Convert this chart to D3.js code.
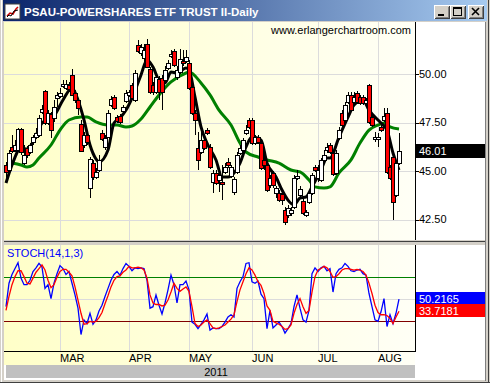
<!DOCTYPE html>
<html>
<head>
  <meta charset="utf-8">
  <title>PSAU daily</title>
  <script src="https://cdn.jsdelivr.net/npm/d3@7/dist/d3.min.js"></script>
  <style>
    body { margin: 0; background: #d4d0c8; }
    svg { display: block; font-family: "Liberation Sans", Arial, sans-serif; }
  </style>
</head>
<body>
  <svg id="chart" width="490" height="383"></svg>
  <script>
    // daily bars, index 0 = early Feb 2011 ... index 131 = 10 Aug 2011
    const opens = [
      45.31, 45.05, 46.24, 46.08, 46.08, 47.16, 45.41, 46.19, 45.98, 46.49,
      46.75, 46.86, 48.04, 49.12, 47.47, 47.94, 47.73, 48.76, 48.87, 49.38,
      49.28, 49.43, 49.95, 49.02, 48.66, 47.42, 46.34, 46.86, 44.12, 45.41,
      44.69, 45.05, 46.96, 46.24, 46.75, 48.40, 48.81, 47.78, 47.84, 48.09,
      48.61, 48.92, 49.43, 48.66, 51.49, 51.08, 50.82, 51.55, 50.26, 49.43,
      49.07, 49.74, 49.79, 49.69, 50.31, 50.93, 51.19, 49.85, 50.10, 50.67,
      50.67, 50.57, 49.33, 47.99, 46.19, 45.98, 46.60, 47.11, 46.24, 44.43,
      44.90, 44.54, 44.43, 44.95, 45.46, 44.74, 43.92, 44.95, 45.93, 46.08,
      46.96, 47.63, 47.63, 46.44, 46.75, 46.44, 45.57, 45.31, 44.28, 44.90,
      43.87, 43.87, 43.81, 42.99, 42.73, 42.83, 43.14, 44.64, 43.76, 43.45,
      42.73, 43.40, 43.87, 45.21, 44.64, 44.54, 45.57, 46.08, 46.34, 45.93,
      44.90, 46.70, 47.99, 47.63, 48.56, 48.92, 48.56, 49.02, 48.81, 48.81,
      48.51, 49.43, 47.78, 46.65, 46.65, 47.27, 47.63, 47.99, 45.21, 45.72,
      43.76, 45.41
    ];
    const highs = [
      45.46, 46.08, 46.86, 46.60, 47.22, 47.22, 46.34, 46.29, 46.44, 46.86,
      47.22, 47.89, 48.40, 49.18, 48.14, 48.04, 48.66, 49.07, 49.28, 49.69,
      49.69, 49.59, 50.26, 49.18, 48.76, 47.63, 47.01, 46.96, 45.72, 45.57,
      45.16, 45.82, 47.11, 46.86, 48.14, 48.87, 48.92, 47.89, 47.94, 48.40,
      49.18, 49.18, 49.54, 50.21, 51.75, 51.55, 51.55, 51.80, 50.36, 49.59,
      49.95, 49.90, 49.95, 50.41, 50.72, 51.24, 51.29, 50.41, 51.29, 51.24,
      51.24, 50.72, 49.43, 48.14, 47.01, 47.01, 46.75, 47.22, 46.39, 45.05,
      45.05, 44.95, 45.31, 45.41, 45.67, 45.31, 44.69, 45.98, 46.34, 46.70,
      47.37, 47.73, 47.73, 46.86, 46.86, 46.55, 45.82, 45.41, 44.79, 45.00,
      44.23, 44.02, 43.92, 43.14, 43.25, 43.14, 44.79, 45.05, 44.23, 43.61,
      42.99, 44.02, 44.90, 45.31, 45.31, 45.67, 46.08, 46.44, 46.44, 46.08,
      46.08, 47.27, 48.14, 48.56, 49.07, 49.07, 49.07, 49.12, 48.92, 48.92,
      48.76, 49.48, 47.89, 47.01, 46.96, 47.37, 48.25, 48.25, 45.31, 45.82,
      45.57, 46.96
    ];
    const lows = [
      44.64, 44.95, 45.93, 45.98, 45.98, 45.82, 45.31, 45.67, 45.88, 46.34,
      46.65, 46.75, 47.94, 47.37, 47.37, 46.70, 47.53, 48.30, 48.76, 49.28,
      49.18, 49.07, 48.87, 48.51, 47.89, 45.98, 46.19, 46.34, 43.61, 44.54,
      44.59, 44.95, 46.55, 46.08, 46.70, 48.30, 48.14, 47.47, 47.42, 47.99,
      48.51, 48.81, 48.66, 48.56, 51.08, 50.93, 50.62, 50.31, 48.97, 48.92,
      48.97, 48.66, 48.14, 49.59, 50.21, 50.82, 50.36, 49.69, 50.00, 50.41,
      50.57, 49.18, 47.89, 46.86, 45.05, 45.88, 46.08, 46.86, 45.10, 43.87,
      44.28, 43.92, 43.50, 44.85, 45.16, 44.64, 43.76, 44.85, 45.82, 45.98,
      46.86, 47.16, 46.34, 46.34, 46.39, 45.05, 45.05, 43.92, 44.12, 44.12,
      43.61, 43.40, 43.25, 42.22, 42.58, 42.68, 43.04, 44.54, 43.66, 42.73,
      42.63, 43.30, 43.76, 44.95, 44.43, 44.43, 45.46, 45.93, 45.88, 44.74,
      44.79, 46.60, 47.22, 47.53, 48.45, 48.04, 48.45, 48.45, 48.40, 48.40,
      48.40, 47.42, 47.27, 46.49, 46.24, 47.01, 47.53, 44.85, 44.54, 42.47,
      43.66, 45.31
    ];
    const closes = [
      44.95, 45.93, 46.03, 46.34, 47.16, 45.98, 45.82, 45.82, 46.34, 46.75,
      46.96, 47.73, 48.20, 47.47, 47.99, 47.11, 48.30, 48.92, 49.02, 49.48,
      49.48, 49.23, 48.92, 48.66, 48.25, 46.03, 46.86, 46.49, 45.62, 44.69,
      44.95, 45.57, 46.65, 46.70, 47.99, 48.71, 48.25, 47.58, 47.53, 48.30,
      49.02, 49.07, 48.76, 50.05, 51.19, 51.39, 51.24, 50.36, 49.07, 49.07,
      49.85, 49.07, 49.07, 50.21, 50.57, 51.03, 50.46, 50.21, 50.77, 50.57,
      50.88, 49.28, 47.99, 47.63, 45.57, 46.60, 46.19, 46.96, 45.21, 44.90,
      44.38, 44.79, 44.33, 45.21, 45.31, 45.21, 44.59, 45.82, 46.19, 46.60,
      47.11, 47.27, 46.44, 46.75, 46.49, 45.16, 45.31, 44.02, 44.64, 44.28,
      44.12, 43.50, 43.50, 42.37, 43.09, 42.99, 44.64, 44.74, 44.07, 42.83,
      42.88, 43.87, 44.79, 45.05, 45.05, 45.57, 45.82, 46.24, 45.98, 44.85,
      45.93, 47.11, 47.37, 48.40, 48.92, 48.14, 48.81, 48.56, 48.51, 48.51,
      48.66, 47.53, 47.37, 46.75, 46.75, 47.11, 47.84, 44.95, 44.64, 43.40,
      45.41, 46.01
    ];

    // black (fast) and green (slow) averages, read at these bar indexes
    const fastIdx = [0, 2, 5, 7, 9, 12, 16, 19, 22, 24, 26, 28, 30, 31, 34, 36, 38, 40, 42, 45,
      47, 49, 51, 53, 55, 57, 60, 61, 63, 65, 67, 70, 72, 74, 76, 78, 80, 82, 85, 87,
      90, 92, 94, 96, 98, 100, 102, 105, 107, 108, 111, 114, 116, 119, 121, 124, 125, 127, 129, 131];
    const fastVals = [44.38, 45.31, 46.19, 46.13, 46.49, 47.47, 47.84, 48.66, 49.28, 48.66,
      47.63, 46.34, 45.62, 45.46, 46.08, 47.47, 47.73, 48.14, 48.76, 49.95,
      50.72, 50.36, 49.69, 49.54, 50.10, 50.05, 50.31, 50.21, 48.81, 47.27,
      46.44, 45.57, 44.69, 44.69, 44.90, 45.41, 46.24, 46.75, 46.60, 45.41,
      44.69, 44.02, 43.50, 43.25, 43.61, 43.66, 44.18, 45.05, 45.67, 45.67,
      46.75, 47.78, 48.40, 48.66, 48.14, 47.63, 47.47, 47.11, 45.93, 45.05];
    const slowIdx = [2, 5, 7, 9, 11, 15, 18, 21, 25, 27, 30, 34, 37, 40, 42, 45, 48, 51, 55, 60,
      61, 65, 68, 71, 75, 78, 80, 84, 87, 91, 95, 98, 101, 103, 106, 108, 111, 115, 118, 121,
      124, 126, 128, 131];
    const slowVals = [45.41, 45.31, 45.21, 45.31, 45.67, 46.34, 47.11, 47.63, 47.78, 47.78,
      47.53, 47.37, 47.37, 47.27, 47.32, 47.68, 48.30, 48.92, 49.59, 50.05,
      50.10, 49.54, 48.92, 48.14, 47.37, 46.44, 45.98, 45.72, 45.57, 45.41,
      45.05, 44.95, 44.54, 44.18, 44.12, 44.18, 44.90, 45.57, 46.44, 47.11,
      47.37, 47.47, 47.27, 47.16];

    // STOCH(14,1,3): %K blue, %D red, one value per bar
    const stochK = [
      40, 72, 84, 92, 100, 79, 70, 70, 76, 88,
      93, 99, 94, 65, 70, 51, 72, 85, 96, 92,
      84, 88, 72, 56, 38, 2, 22, 17, 31, 16,
      22, 34, 42, 54, 65, 76, 84, 88, 83, 92,
      99, 95, 89, 93, 92, 93, 92, 76, 38, 40,
      56, 42, 30, 45, 63, 83, 70, 45, 70, 70,
      75, 63, 19, 16, 10, 16, 22, 30, 8, 11,
      10, 10, 13, 19, 26, 29, 26, 65, 74, 81,
      99, 100, 74, 72, 75, 57, 51, 10, 35, 11,
      15, 19, 13, 4, 10, 17, 40, 56, 38, 22,
      19, 35, 85, 93, 88, 93, 95, 89, 92, 60,
      85, 91, 93, 99, 95, 89, 88, 90, 91, 85,
      83, 58, 40, 22, 20, 33, 51, 13, 29, 17,
      31, 50.2165
    ];
    const stochD = [
      35, 54, 70, 81, 89, 89, 81, 72, 71, 79,
      87, 92, 97, 90, 76, 66, 70, 80, 88, 91,
      91, 87, 82, 67, 49, 31, 16, 17, 20, 19,
      20, 25, 32, 44, 55, 67, 76, 81, 82, 87,
      90, 95, 93, 93, 94, 93, 90, 79, 56, 45,
      43, 43, 41, 42, 49, 60, 72, 65, 61, 64,
      67, 61, 40, 17, 13, 15, 19, 22, 17, 11,
      10, 11, 13, 15, 19, 23, 29, 47, 63, 74,
      85, 93, 90, 83, 74, 69, 58, 41, 35, 20,
      18, 16, 13, 9, 10, 15, 31, 43, 51, 40,
      31, 35, 60, 81, 90, 92, 95, 93, 88, 80,
      81, 85, 90, 92, 92, 91, 90, 91, 90, 88,
      83, 72, 58, 42, 32, 29, 29, 28, 24, 17,
      26, 33.7181
    ];

    const monthStart = [18, 41, 61, 82, 104, 124];
    const monthNames = ['MAR', 'APR', 'MAY', 'JUN', 'JUL', 'AUG'];
    const priceTicks = [42.5, 45, 47.5, 50];
    const yearLabel = '2011';
    const title = 'PSAU-POWERSHARES ETF TRUST II-Daily';

    // ---- layout
    const plotL = 4, plotR = 415, contentR = 485;
    const priceTop = 22, priceBot = 240, stochTop = 245, stochBot = 351;

    const x = d3.scaleLinear().domain([0, closes.length - 1]).range([6, 399]);
    const yP = d3.scaleLinear().domain([42.5, 50]).range([219.5, 74]);
    const yS = d3.scaleLinear().domain([0, 100]).range([336, 262.7]);
    const px = i => Math.round(x(i));

    const svg = d3.select('#chart');
    const defs = svg.append('defs');

    const tg = defs.append('linearGradient').attr('id', 'titleGrad');
    tg.append('stop').attr('offset', '0%').attr('stop-color', '#0a246a');
    tg.append('stop').attr('offset', '100%').attr('stop-color', '#a6caf0');

    const bgGrad = defs.append('linearGradient').attr('id', 'plotGrad');
    bgGrad.append('stop').attr('offset', '0%').attr('stop-color', '#ffffc8');
    bgGrad.append('stop').attr('offset', '100%').attr('stop-color', '#fffff6');

    defs.append('clipPath').attr('id', 'clipP').append('rect')
      .attr('x', plotL).attr('y', priceTop).attr('width', plotR - plotL).attr('height', priceBot - priceTop);
    defs.append('clipPath').attr('id', 'clipS').append('rect')
      .attr('x', plotL).attr('y', stochTop).attr('width', plotR - plotL).attr('height', stochBot - stochTop);

    // window frame
    svg.append('rect').attr('width', 490).attr('height', 383).attr('fill', '#d4d0c8');
    svg.append('line').attr('x1', 1.5).attr('x2', 1.5).attr('y1', 0).attr('y2', 383).attr('stroke', '#ffffff');
    svg.append('line').attr('x1', 488.5).attr('x2', 488.5).attr('y1', 0).attr('y2', 383).attr('stroke', '#404040');
    svg.append('line').attr('x1', 0).attr('x2', 490).attr('y1', 382.5).attr('y2', 382.5).attr('stroke', '#404040');
    svg.append('rect').attr('x', 3).attr('y', 0).attr('width', 484).attr('height', 21).attr('fill', 'url(#titleGrad)');

    // title bar icon
    const icon = svg.append('g').attr('transform', 'translate(5,4)');
    icon.append('rect').attr('width', 15).attr('height', 15).attr('fill', '#ffffff').attr('stroke', '#404040');
    icon.append('polyline').attr('points', '2,12 5,9 8,10 11,5 13,3').attr('fill', 'none')
      .attr('stroke', '#cc0000').attr('stroke-width', 1.5);
    icon.append('polyline').attr('points', '2,13 4,11 6,12 9,7 13,6').attr('fill', 'none')
      .attr('stroke', '#000').attr('stroke-width', 1);

    svg.append('text').attr('x', 24).attr('y', 16).attr('fill', '#ffffff')
      .attr('font-weight', 'bold').attr('font-size', 11.5).text(title);

    // caption buttons
    const btns = [{ x: 434, k: 'min' }, { x: 450, k: 'max' }, { x: 468, k: 'close' }];
    btns.forEach(b => {
      const g = svg.append('g').attr('transform', `translate(${b.x},5)`).attr('shape-rendering', 'crispEdges');
      g.append('rect').attr('width', 16).attr('height', 14).attr('fill', '#d4d0c8');
      g.append('path').attr('d', 'M0.5,13.5V0.5H15.5').attr('fill', 'none').attr('stroke', '#ffffff');
      g.append('path').attr('d', 'M0.5,13.5H15.5V0.5').attr('fill', 'none').attr('stroke', '#404040');
      g.append('path').attr('d', 'M1.5,12.5H14.5V1.5').attr('fill', 'none').attr('stroke', '#808080');
      if (b.k === 'min') g.append('rect').attr('x', 4).attr('y', 9).attr('width', 6).attr('height', 2).attr('fill', '#000');
      if (b.k === 'max') {
        g.append('rect').attr('x', 3.5).attr('y', 2.5).attr('width', 8).attr('height', 8).attr('fill', 'none').attr('stroke', '#000');
        g.append('rect').attr('x', 3).attr('y', 3).attr('width', 9).attr('height', 1).attr('fill', '#000');
      }
      if (b.k === 'close') g.append('path').attr('d', 'M4,3L11,10M11,3L4,10').attr('stroke', '#000').attr('stroke-width', 1.6)
        .attr('shape-rendering', 'auto');
    });

    // client area
    svg.append('rect').attr('x', plotL).attr('y', priceTop).attr('width', contentR - plotL).attr('height', 358).attr('fill', '#ffffff');
    svg.append('rect').attr('x', plotL).attr('y', priceTop).attr('width', plotR - plotL).attr('height', priceBot - priceTop).attr('fill', 'url(#plotGrad)');
    svg.append('rect').attr('x', plotL).attr('y', stochTop).attr('width', plotR - plotL).attr('height', stochBot - stochTop).attr('fill', 'url(#plotGrad)');
    svg.append('rect').attr('x', plotL).attr('y', stochBot).attr('width', plotR - plotL).attr('height', 14).attr('fill', 'url(#plotGrad)');
    svg.append('line').attr('x1', contentR + 0.5).attr('x2', contentR + 0.5).attr('y1', priceTop).attr('y2', 381).attr('stroke', '#808080');

    // panel separator
    svg.append('rect').attr('x', plotL).attr('y', priceBot).attr('width', contentR - plotL).attr('height', stochTop - priceBot).attr('fill', '#d4d0c8');
    svg.append('line').attr('x1', plotL).attr('x2', contentR).attr('y1', priceBot + 1.5).attr('y2', priceBot + 1.5).attr('stroke', '#404040');

    // grid
    const grid = svg.append('g').attr('stroke', '#dcdcdc').attr('shape-rendering', 'crispEdges');
    grid.selectAll('line.hp').data(priceTicks).join('line')
      .attr('x1', plotL).attr('x2', plotR).attr('y1', d => Math.round(yP(d)) + 0.5).attr('y2', d => Math.round(yP(d)) + 0.5);
    grid.selectAll('line.vp').data(monthStart).join('line').attr('class', 'vp')
      .attr('x1', d => px(d) + 0.5).attr('x2', d => px(d) + 0.5).attr('y1', priceTop).attr('y2', priceBot);
    grid.selectAll('line.vs').data(monthStart).join('line').attr('class', 'vs')
      .attr('x1', d => px(d) + 0.5).attr('x2', d => px(d) + 0.5).attr('y1', stochTop).attr('y2', stochBot);
    grid.append('line').attr('x1', plotL).attr('x2', plotR)
      .attr('y1', Math.round(yS(50)) + 0.5).attr('y2', Math.round(yS(50)) + 0.5);

    // price panel
    const gp = svg.append('g').attr('clip-path', 'url(#clipP)');
    const maLine = d3.line().x(d => x(d[0])).y(d => yP(d[1])).curve(d3.curveMonotoneX);
    gp.append('path').datum(slowIdx.map((d, k) => [d, slowVals[k]])).attr('d', maLine)
      .attr('fill', 'none').attr('stroke', '#008000').attr('stroke-width', 3);
    gp.append('path').datum(fastIdx.map((d, k) => [d, fastVals[k]])).attr('d', maLine)
      .attr('fill', 'none').attr('stroke', '#000000').attr('stroke-width', 3);

    const bars = closes.map((c, i) => ({ i, o: opens[i], h: highs[i], l: lows[i], c }));
    const candles = gp.append('g').attr('shape-rendering', 'crispEdges');
    candles.selectAll('line').data(bars).join('line')
      .attr('x1', d => px(d.i) + 0.5).attr('x2', d => px(d.i) + 0.5)
      .attr('y1', d => Math.round(yP(d.h))).attr('y2', d => Math.round(yP(d.l)))
      .attr('stroke', '#000');
    candles.selectAll('rect').data(bars).join('rect')
      .attr('x', d => px(d.i) - 1.5).attr('width', 4)
      .attr('y', d => Math.round(yP(Math.max(d.o, d.c))) + 0.5)
      .attr('height', d => Math.max(1, Math.round(yP(Math.min(d.o, d.c))) - Math.round(yP(Math.max(d.o, d.c)))))
      .attr('fill', d => d.c < d.o ? '#ff0000' : '#ffffff')
      .attr('stroke', '#000');

    svg.append('text').attr('x', 411).attr('y', 34).attr('text-anchor', 'end')
      .attr('font-size', 11).attr('fill', '#000').text('www.erlangerchartroom.com');

    // price axis
    const ax = svg.append('g').attr('shape-rendering', 'crispEdges');
    ax.append('line').attr('x1', plotR + 0.5).attr('x2', plotR + 0.5).attr('y1', priceTop).attr('y2', priceBot).attr('stroke', '#000');
    ax.selectAll('line.t').data(priceTicks).join('line').attr('class', 't')
      .attr('x1', plotR).attr('x2', plotR + 4)
      .attr('y1', d => Math.round(yP(d)) + 0.5).attr('y2', d => Math.round(yP(d)) + 0.5).attr('stroke', '#000');
    svg.selectAll('text.pt').data(priceTicks).join('text').attr('class', 'pt')
      .attr('x', plotR + 4).attr('y', d => yP(d)).attr('dy', '0.36em')
      .attr('font-size', 11).attr('fill', '#000').text(d => d.toFixed(2));

    const lastC = closes[closes.length - 1];
    svg.append('rect').attr('x', plotR + 1).attr('y', Math.round(yP(lastC)) - 7).attr('width', contentR - plotR - 1).attr('height', 14).attr('fill', '#000');
    svg.append('text').attr('x', plotR + 4).attr('y', yP(lastC)).attr('dy', '0.36em')
      .attr('font-size', 11).attr('fill', '#fff').text(lastC.toFixed(2));

    // stochastic panel
    const gs = svg.append('g').attr('clip-path', 'url(#clipS)');
    gs.append('line').attr('x1', plotL).attr('x2', plotR).attr('y1', Math.round(yS(80)) + 0.5).attr('y2', Math.round(yS(80)) + 0.5)
      .attr('stroke', '#008000').attr('shape-rendering', 'crispEdges');
    gs.append('line').attr('x1', plotL).attr('x2', plotR).attr('y1', Math.round(yS(20)) + 0.5).attr('y2', Math.round(yS(20)) + 0.5)
      .attr('stroke', '#800000').attr('shape-rendering', 'crispEdges');
    const stLine = d3.line().x((d, i) => x(i)).y(d => yS(d));
    gs.append('path').datum(stochK).attr('d', stLine).attr('fill', 'none').attr('stroke', '#0000ff').attr('stroke-width', 1.3);
    gs.append('path').datum(stochD).attr('d', stLine).attr('fill', 'none').attr('stroke', '#ff0000').attr('stroke-width', 1.3);

    svg.append('text').attr('x', 7).attr('y', 257).attr('font-size', 11).attr('fill', '#0000ff').text('STOCH(14,1,3)');

    const sx = svg.append('g').attr('shape-rendering', 'crispEdges');
    sx.append('line').attr('x1', plotR + 0.5).attr('x2', plotR + 0.5).attr('y1', stochTop).attr('y2', stochBot + 1).attr('stroke', '#000');
    sx.append('line').attr('x1', plotL).attr('x2', plotR + 1).attr('y1', stochBot + 0.5).attr('y2', stochBot + 0.5).attr('stroke', '#000');

    const lastK = stochK[stochK.length - 1], lastD = stochD[stochD.length - 1];
    [[lastK, '#0000ff'], [lastD, '#ff0000']].forEach(([v, col]) => {
      svg.append('rect').attr('x', plotR + 1).attr('y', Math.round(yS(v)) - 7).attr('width', contentR - plotR - 1).attr('height', 13).attr('fill', col);
      svg.append('text').attr('x', plotR + 4).attr('y', yS(v)).attr('dy', '0.36em')
        .attr('font-size', 11).attr('fill', '#fff').text(v.toFixed(4));
    });

    // date axis
    svg.selectAll('text.m').data(monthStart).join('text').attr('class', 'm')
      .attr('x', d => px(d)).attr('y', 362).attr('font-size', 11).attr('fill', '#000')
      .text((d, k) => monthNames[k]);
    svg.append('rect').attr('x', 6).attr('y', 365).attr('width', plotR - 6).attr('height', 13).attr('fill', '#c0c0c0');
    svg.append('text').attr('x', x((monthStart[0] + monthStart[5]) / 2 - 1)).attr('y', 375.5).attr('text-anchor', 'middle')
      .attr('font-size', 11).attr('fill', '#000').text(yearLabel);
  </script>
</body>
</html>
